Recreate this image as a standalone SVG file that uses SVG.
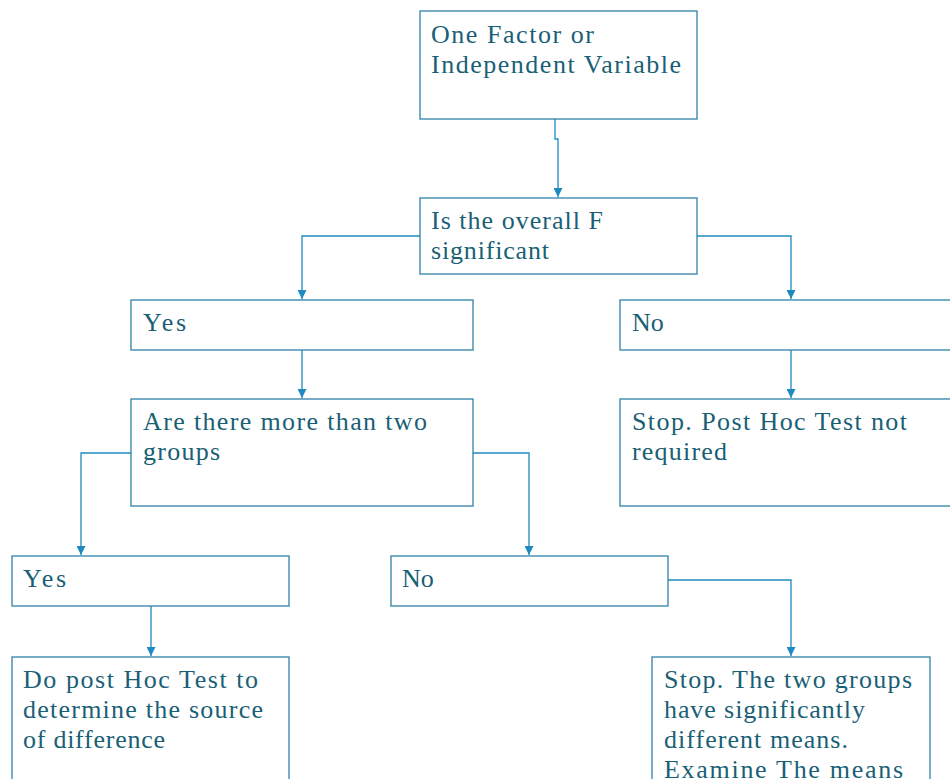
<svg xmlns="http://www.w3.org/2000/svg" width="950" height="779" viewBox="0 0 950 779">
<style>
.box{fill:#ffffff;stroke:#2F82A8;stroke-width:1.3}
text{font-family:"Liberation Serif","Times New Roman",serif;font-size:26px;fill:#1A5F76}
.c{fill:none;stroke:#1E8AC0;stroke-width:1.3}
</style>
<defs>
<marker id="ah" viewBox="0 0 10 10" refX="10" refY="5" markerWidth="9" markerHeight="9" markerUnits="userSpaceOnUse" orient="auto">
<path d="M0,0 L10,5 L0,10 z" fill="#1E8AC0"/>
</marker>
</defs>
<rect width="950" height="779" fill="#ffffff"/>
<g id="connectors">
<path class="c" d="M555,119 V139 H558 V197" marker-end="url(#ah)"/>
<path class="c" d="M420,236 H302 V299" marker-end="url(#ah)"/>
<path class="c" d="M697,236 H791 V299" marker-end="url(#ah)"/>
<path class="c" d="M302,350 V398" marker-end="url(#ah)"/>
<path class="c" d="M791,350 V398" marker-end="url(#ah)"/>
<path class="c" d="M131,453 H81 V555" marker-end="url(#ah)"/>
<path class="c" d="M473,453 H529 V555" marker-end="url(#ah)"/>
<path class="c" d="M151,606 V656" marker-end="url(#ah)"/>
<path class="c" d="M668,580 H791 V656" marker-end="url(#ah)"/>
</g>
<g id="n1">
<rect class="box" x="420" y="11" width="277" height="108"/>
<text x="431" y="43" textLength="163" lengthAdjust="spacing">One Factor or</text>
<text x="431" y="73" textLength="250" lengthAdjust="spacing">Independent Variable</text>
</g>
<g id="n2">
<rect class="box" x="420" y="198" width="277" height="76"/>
<text x="431" y="229" textLength="172" lengthAdjust="spacing">Is the overall F</text>
<text x="431" y="259" textLength="118" lengthAdjust="spacing">significant</text>
</g>
<g id="n3">
<rect class="box" x="131" y="300" width="342" height="50"/>
<text x="143" y="331" textLength="43" lengthAdjust="spacing">Yes</text>
</g>
<g id="n4">
<rect class="box" x="620" y="300" width="340" height="50"/>
<text x="632" y="331">No</text>
</g>
<g id="n5">
<rect class="box" x="131" y="399" width="342" height="107"/>
<text x="143" y="430" textLength="284" lengthAdjust="spacing">Are there more than two</text>
<text x="143" y="460" textLength="77" lengthAdjust="spacing">groups</text>
</g>
<g id="n6">
<rect class="box" x="620" y="399" width="340" height="107"/>
<text x="632" y="430" textLength="275" lengthAdjust="spacing">Stop. Post Hoc Test not</text>
<text x="632" y="460" textLength="95" lengthAdjust="spacing">required</text>
</g>
<g id="n7">
<rect class="box" x="12" y="556" width="277" height="50"/>
<text x="23" y="587" textLength="43" lengthAdjust="spacing">Yes</text>
</g>
<g id="n8">
<rect class="box" x="391" y="556" width="277" height="50"/>
<text x="402" y="587">No</text>
</g>
<g id="n9">
<rect class="box" x="12" y="657" width="277" height="140"/>
<text x="23" y="688" textLength="235" lengthAdjust="spacing">Do post Hoc Test to</text>
<text x="23" y="718" textLength="240" lengthAdjust="spacing">determine the source</text>
<text x="23" y="748" textLength="142" lengthAdjust="spacing">of difference</text>
</g>
<g id="n10">
<rect class="box" x="652" y="657" width="278" height="140"/>
<text x="664" y="688" textLength="248" lengthAdjust="spacing">Stop. The two groups</text>
<text x="664" y="718" textLength="201" lengthAdjust="spacing">have significantly</text>
<text x="664" y="748" textLength="184" lengthAdjust="spacing">different means.</text>
<text x="664" y="778" textLength="239" lengthAdjust="spacing">Examine The means</text>
</g>
</svg>
